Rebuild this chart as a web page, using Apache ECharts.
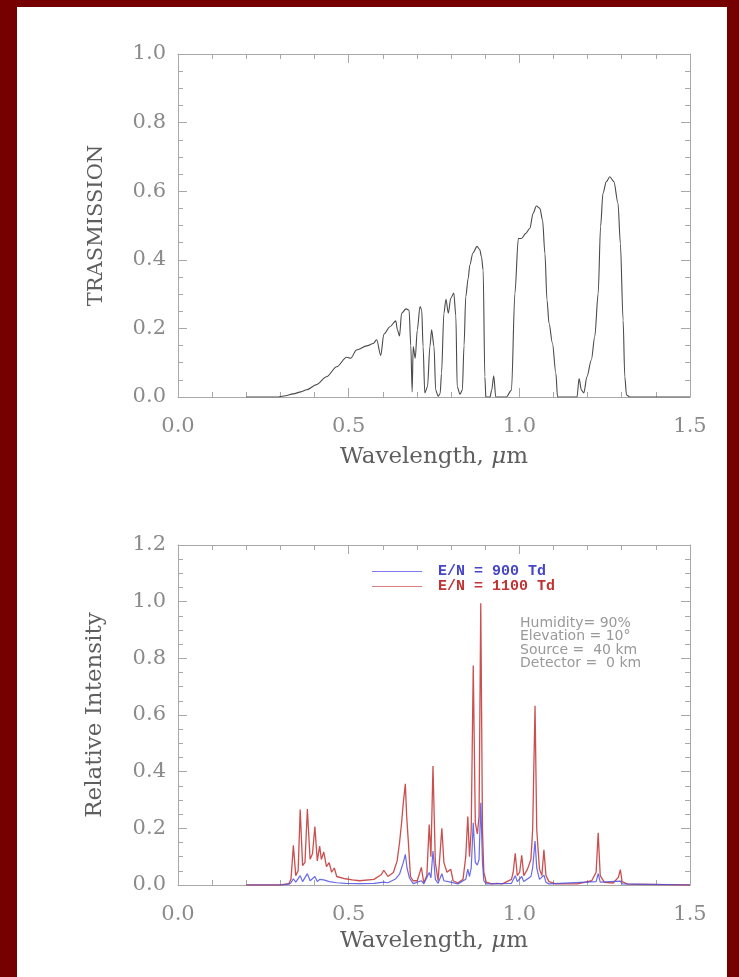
<!DOCTYPE html>
<html>
<head>
<meta charset="utf-8">
<script src="https://cdn.jsdelivr.net/npm/echarts@6/dist/echarts.min.js"></script>
<style>
html,body{margin:0;padding:0;background:#760000;}
#bg{position:absolute;left:17px;top:7px;width:710px;height:970px;background:#ffffff;}
#chart{position:absolute;left:0;top:0;width:739px;height:977px;}
</style>
</head>
<body>
<div id="bg"></div>
<div id="chart"></div>
<script>
// ---- Data ----
const xTicks = [0.0, 0.5, 1.0, 1.5];
const yTicksTop = [0.0, 0.2, 0.4, 0.6, 0.8, 1.0];
const yTicksBottom = [0.0, 0.2, 0.4, 0.6, 0.8, 1.0, 1.2];

const transWl = [0.20,0.29,0.31,0.338,0.36,0.377,0.406,0.435,0.465,0.494,0.506,0.523,0.553,0.572,0.582,0.594,0.603,0.621,0.638,0.643,0.649,0.655,0.668,0.677,0.682,0.686,0.689,0.695,0.701,0.709,0.714,0.718,0.723,0.731,0.738,0.743,0.75,0.755,0.762,0.768,0.772,0.779,0.785,0.792,0.799,0.808,0.814,0.818,0.826,0.833,0.838,0.843,0.85,0.855,0.864,0.876,0.884,0.889,0.894,0.899,0.902,0.914,0.919,0.925,0.931,0.962,0.977,0.987,0.997,1.006,1.019,1.031,1.04,1.05,1.06,1.068,1.075,1.081,1.087,1.097,1.107,1.112,1.169,1.175,1.182,1.189,1.198,1.211,1.221,1.231,1.238,1.245,1.255,1.265,1.277,1.289,1.296,1.304,1.309,1.314,1.324,1.5];
const transVal = [0,0,0.003,0.009,0.015,0.021,0.036,0.059,0.088,0.116,0.113,0.137,0.149,0.156,0.167,0.121,0.183,0.205,0.222,0.195,0.178,0.244,0.257,0.253,0.15,0.015,0.147,0.113,0.195,0.264,0.254,0.147,0.012,0.03,0.147,0.196,0.147,0.02,0.002,0.01,0.069,0.244,0.285,0.244,0.288,0.303,0.237,0.03,0.008,0.02,0.15,0.292,0.345,0.385,0.42,0.439,0.43,0.409,0.37,0.059,0,0,0.02,0.062,0,0,0.02,0.302,0.462,0.462,0.477,0.492,0.535,0.557,0.55,0.516,0.418,0.283,0.215,0.157,0.069,0,0,0.054,0.02,0.012,0.059,0.108,0.176,0.302,0.497,0.594,0.628,0.642,0.628,0.565,0.448,0.224,0.059,0.006,0,0];

const redWl = [0.20,0.30,0.325,0.331,0.338,0.345,0.352,0.358,0.365,0.372,0.379,0.387,0.394,0.401,0.408,0.415,0.42,0.427,0.435,0.443,0.45,0.458,0.465,0.49,0.511,0.532,0.574,0.595,0.603,0.615,0.631,0.642,0.649,0.655,0.66,0.666,0.67,0.675,0.681,0.689,0.701,0.713,0.72,0.729,0.736,0.741,0.747,0.754,0.762,0.773,0.779,0.788,0.799,0.806,0.82,0.835,0.843,0.849,0.854,0.859,0.865,0.871,0.877,0.882,0.887,0.892,0.896,0.903,0.919,0.935,0.95,0.977,0.982,0.988,0.994,1.001,1.007,1.013,1.024,1.034,1.039,1.046,1.051,1.059,1.066,1.072,1.078,1.087,1.107,1.17,1.191,1.212,1.225,1.231,1.237,1.249,1.275,1.29,1.296,1.301,1.317,1.5];
const redVal = [0,0,0.005,0.02,0.14,0.033,0.05,0.266,0.068,0.08,0.268,0.091,0.11,0.206,0.085,0.137,0.09,0.117,0.065,0.079,0.045,0.06,0.03,0.022,0.018,0.015,0.02,0.036,0.052,0.03,0.044,0.085,0.149,0.219,0.289,0.357,0.242,0.149,0.03,0.015,0.015,0.062,0.008,0.033,0.213,0.1,0.42,0.079,0.015,0.2,0.079,0.045,0.056,0.015,0.007,0.02,0.1,0.242,0.1,0.196,0.775,0.219,0.18,0.242,0.994,0.196,0.045,0.01,0.004,0.006,0.004,0.02,0.045,0.112,0.033,0.045,0.105,0.033,0.056,0.091,0.196,0.633,0.196,0.056,0.033,0.124,0.033,0.012,0.004,0.004,0.009,0.015,0.045,0.184,0.033,0.009,0.007,0.027,0.054,0.012,0.003,0];

const blueWl = [0.20,0.30,0.325,0.331,0.338,0.345,0.358,0.365,0.379,0.387,0.401,0.408,0.415,0.427,0.443,0.465,0.49,0.532,0.574,0.603,0.615,0.637,0.649,0.66,0.666,0.671,0.678,0.689,0.713,0.72,0.736,0.741,0.747,0.754,0.762,0.773,0.779,0.799,0.82,0.843,0.849,0.854,0.859,0.865,0.871,0.877,0.882,0.887,0.892,0.896,0.903,0.977,0.988,0.994,1.007,1.013,1.034,1.039,1.046,1.051,1.059,1.072,1.078,1.087,1.225,1.231,1.237,1.296,1.301,1.5];
const blueVal = [0,0,0.003,0.008,0.022,0.01,0.033,0.012,0.04,0.015,0.03,0.012,0.02,0.018,0.012,0.008,0.006,0.005,0.006,0.01,0.008,0.021,0.038,0.079,0.108,0.06,0.025,0.005,0.015,0.004,0.044,0.025,0.12,0.02,0.006,0.04,0.015,0.01,0.004,0.02,0.056,0.03,0.06,0.22,0.08,0.07,0.09,0.29,0.08,0.015,0.004,0.006,0.033,0.012,0.03,0.012,0.03,0.06,0.155,0.06,0.02,0.035,0.01,0.004,0.012,0.04,0.01,0.014,0.004,0];

const seriesNames = ['E/N = 900 Td', 'E/N = 1100 Td'];
const yNameTop = 'TRASMISSION';
const yNameBottom = 'Relative Intensity';
const xName = 'Wavelength, {i|μ}m';
const notes = ['Humidity= 90%', 'Elevation = 10°', 'Source =  40 km', 'Detector =  0 km'];

// ---- Styles ----
const axisGrey = '#a8a8a8';
const labelGrey = '#8a8a8a';
const nameGrey = '#5e5e5e';
const serif = 'DejaVu Serif';

function zip(a, b) { return a.map((v, i) => [v, b[i]]); }

function xAxisDef(grid, pos, showLabel, gap) {
  const ax = {
    gridIndex: grid, type: 'value', position: pos,
    min: xTicks[0], max: xTicks[xTicks.length - 1], interval: xTicks[1] - xTicks[0],
    axisLine: { show: true, onZero: false, lineStyle: { color: axisGrey, width: 1 } },
    axisTick: { show: true, inside: true, length: 9, lineStyle: { color: axisGrey } },
    minorTick: { show: true, splitNumber: 5, length: 5, lineStyle: { color: axisGrey } },
    splitLine: { show: false },
    axisLabel: { show: showLabel, margin: 19, fontFamily: serif, fontSize: 21, color: labelGrey,
      formatter: v => v.toFixed(1) }
  };
  if (showLabel) {
    ax.name = xName;
    ax.nameLocation = 'middle';
    ax.nameGap = gap;
    ax.nameTextStyle = { fontFamily: serif, fontSize: 23, color: nameGrey,
      rich: { i: { fontFamily: serif, fontSize: 23, color: nameGrey, fontStyle: 'italic' } } };
  }
  return ax;
}

function yAxisDef(grid, pos, showLabel, ticks, name, nameSize) {
  const ax = {
    gridIndex: grid, type: 'value', position: pos,
    min: ticks[0], max: ticks[ticks.length - 1], interval: ticks[1] - ticks[0],
    axisLine: { show: true, onZero: false, lineStyle: { color: axisGrey, width: 1 } },
    axisTick: { show: true, inside: true, length: 9, lineStyle: { color: axisGrey } },
    minorTick: { show: true, splitNumber: 4, length: 5, lineStyle: { color: axisGrey } },
    splitLine: { show: false },
    axisLabel: { show: showLabel, margin: 12, fontFamily: serif, fontSize: 21, color: labelGrey,
      formatter: v => v.toFixed(1) }
  };
  if (showLabel) {
    ax.name = name;
    ax.nameLocation = 'middle';
    ax.nameRotate = 90;
    ax.nameGap = 71;
    ax.nameTextStyle = { fontFamily: serif, fontSize: nameSize, color: nameGrey };
  }
  return ax;
}

const chart = echarts.init(document.getElementById('chart'), null, { renderer: 'canvas' });
chart.setOption({
  backgroundColor: 'transparent',
  animation: false,
  grid: [
    { left: 178, top: 54, width: 512, height: 343 },
    { left: 178, top: 545, width: 512, height: 340 }
  ],
  xAxis: [
    xAxisDef(0, 'bottom', true, 49), xAxisDef(0, 'top', false, 0),
    xAxisDef(1, 'bottom', true, 45), xAxisDef(1, 'top', false, 0)
  ],
  yAxis: [
    yAxisDef(0, 'left', true, yTicksTop, yNameTop, 21), yAxisDef(0, 'right', false, yTicksTop, '', 21),
    yAxisDef(1, 'left', true, yTicksBottom, yNameBottom, 23), yAxisDef(1, 'right', false, yTicksBottom, '', 23)
  ],
  legend: {
    left: 367, top: 559, orient: 'vertical', itemWidth: 50, itemHeight: 1, itemGap: 0,
    icon: 'rect', selectedMode: false,
    textStyle: { fontFamily: 'Liberation Mono', fontWeight: 'bold', fontSize: 15, lineHeight: 15, padding: [0, 0, 0, 11] },
    data: [
      { name: seriesNames[0], textStyle: { color: '#4646c8' }, itemStyle: { color: '#7c7cf0' } },
      { name: seriesNames[1], textStyle: { color: '#c03434' }, itemStyle: { color: '#d88080' } }
    ]
  },
  graphic: [{
    type: 'text', left: 520, top: 616, z: 10,
    style: { text: notes.join('\n'), font: '14px "DejaVu Sans"', fill: '#999999', lineHeight: 13.5 }
  }],
  series: [
    {
      type: 'line', xAxisIndex: 0, yAxisIndex: 0, data: zip(transWl, transVal),
      showSymbol: false, symbol: 'none', smooth: 0.3, smoothMonotone: 'x',
      lineStyle: { color: '#4a4a4a', width: 1.1 }
    },
    {
      name: seriesNames[1], type: 'line', xAxisIndex: 2, yAxisIndex: 2, data: zip(redWl, redVal),
      showSymbol: false, symbol: 'none', z: 2,
      itemStyle: { color: '#c44a4a' },
      lineStyle: { color: '#c43c3c', width: 1.3, opacity: 0.9 }
    },
    {
      name: seriesNames[0], type: 'line', xAxisIndex: 2, yAxisIndex: 2, data: zip(blueWl, blueVal),
      showSymbol: false, symbol: 'none', z: 3,
      itemStyle: { color: '#6060e0' },
      lineStyle: { color: '#5050e0', width: 1.2, opacity: 0.85 }
    }
  ]
});
</script>
</body>
</html>
